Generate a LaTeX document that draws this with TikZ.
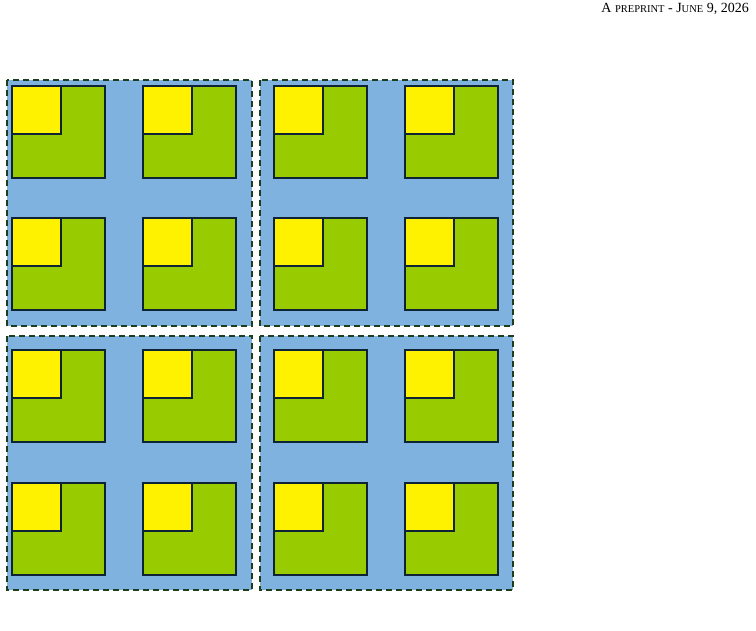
\documentclass[tikz,border=0pt]{standalone}
\usepackage{fontspec}
\setmainfont{Liberation Serif}
\newfontfamily\lab{Liberation Sans}
\begin{document}
\begin{tikzpicture}[x=1pt,y=-1pt,
  blk/.style={fill=blue!20!cyan!30!gray!60, fill={rgb,255:red,128;green,178;blue,224}, draw={rgb,255:red,30;green,60;blue,30}, dashed, dash pattern=on 6pt off 4pt, line width=1.3pt},
  pe/.style={fill={rgb,255:red,153;green,204;blue,0}, draw={rgb,255:red,15;green,35;blue,55}, line width=1.3pt},
  yel/.style={fill=yellow, draw={rgb,255:red,15;green,35;blue,55}, line width=1.3pt},
  lbl/.style={text=white, font=\lab\bfseries\fontsize{13}{15}\selectfont, align=center},
  arr/.style={red, line width=1.4pt, {Latex[length=6pt,width=6pt]}-{Latex[length=6pt,width=6pt]}},
  dots/.style={font=\lab\bfseries\fontsize{14}{14}\selectfont}]
\useasboundingbox (0,0) rectangle (756,631);
\node[anchor=north east, inner sep=0, font=\fontsize{14}{16}\selectfont] (hdr) at (749,3) {A {\fontsize{10.5}{12}\selectfont PREPRINT} - J{\fontsize{10.5}{12}\selectfont UNE} 9, 2026};
\draw[blk] (7,80) rectangle (252,326);
\draw[blk] (260,80) rectangle (513,326);
\draw[blk] (7,336) rectangle (252,590);
\draw[blk] (260,336) rectangle (513,590);
\foreach \r/\y in {0/86,1/218,2/350,3/483}{
 \foreach \c/\x in {0/12,1/143,2/274,3/405}{
  \draw[pe] (\x,\y) rectangle ++(93,92);
  \draw[yel] (\x,\y) rectangle ++(49,48);
  \coordinate (p\r\c) at (\x,\y);
 }}
\def\L#1#2#3{\node[lbl] at ($(p#1#2)+(46.5,66)$) {PE[#1,#2]\\#3};}
\usetikzlibrary{calc}
\end{tikzpicture}
\end{document}
